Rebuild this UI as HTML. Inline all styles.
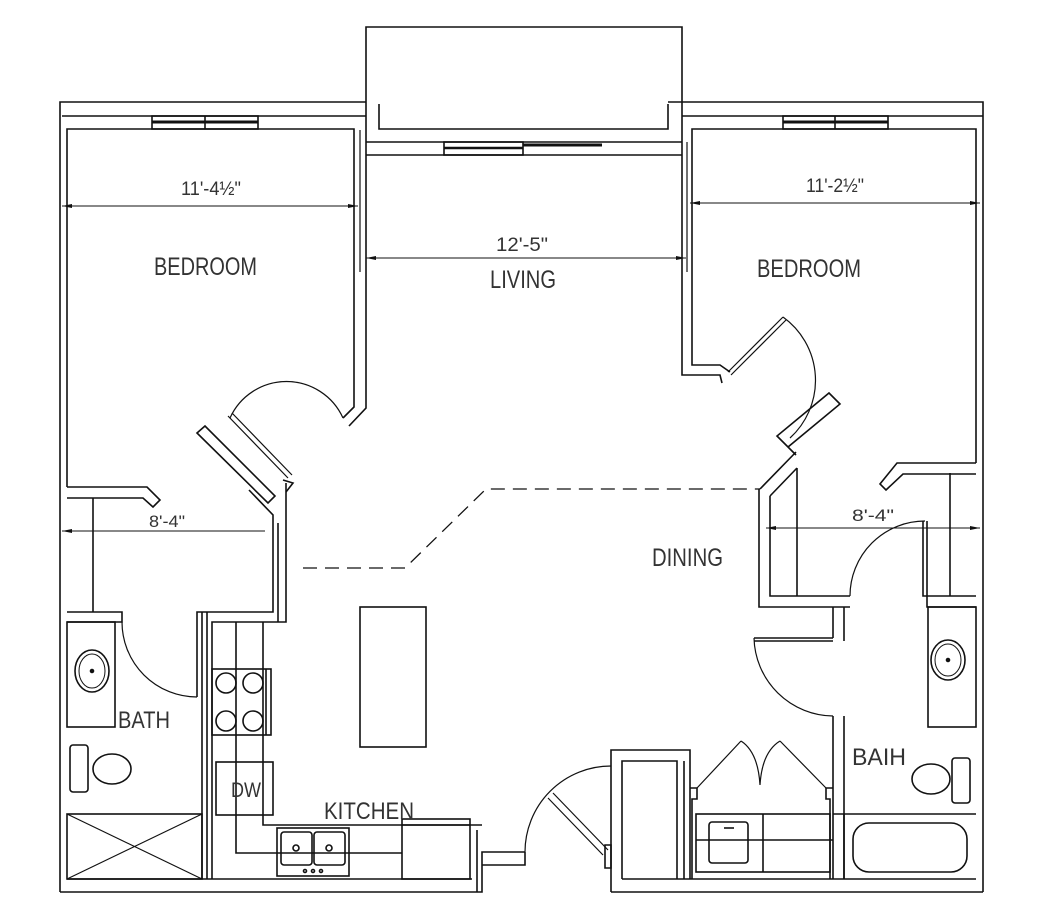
<!DOCTYPE html>
<html><head><meta charset="utf-8"><style>html,body{margin:0;padding:0;background:#fff}svg{display:block}</style></head>
<body>
<svg width="1053" height="912" viewBox="0 0 1053 912" xmlns="http://www.w3.org/2000/svg">
<g fill="none" stroke="#111" stroke-width="1.6">
<!-- balcony -->
<path d="M366 142 V27 H682 V102"/>
<path d="M379 104 V129 H668 V104"/>
<!-- top walls left -->
<path d="M60 892 V102 H366"/>
<path d="M62 116 H366"/>
<path d="M67 487 V129 H354 V407 L343 418"/>
<path d="M366 142 V408 L349 426"/>
<path d="M360 130 V272" stroke-width="1.2"/>
<rect x="152" y="116" width="106" height="13"/>
<path d="M205 116 V129"/><path d="M152 122 H258" stroke-width="3"/>
<path d="M366 142 H682 M366 155 H682"/>
<rect x="444" y="142" width="79" height="13"/>
<path d="M444 148 H523" stroke-width="2.5"/><path d="M523 145 H602" stroke-width="3"/>
<path d="M668 102 H983 V892"/>
<path d="M682 116 H983"/>
<path d="M976 463 V129 H692 V365 H720 L730 372"/>
<path d="M682 102 V375 H720 L722 383"/>
<path d="M687 142 V272" stroke-width="1.2"/>
<rect x="783" y="116" width="105" height="13"/>
<path d="M835 116 V129"/><path d="M783 122 H888" stroke-width="3"/>
<path d="M728 372 L783 317 M731 375 L786 320" stroke-width="1.2"/>
<path d="M783 317 A78 78 0 0 1 790 438" stroke-width="1.2"/>
<path d="M777 436 L788 447 L840 404 L829 393 Z M788 447 L796 455"/>
<path d="M760 489 L796 452 M770 496 L797 468"/>
<path d="M230 418 A62 62 0 0 1 343 418" stroke-width="1.2"/>
<path d="M228 416 L288 478 M232 413 L292 475" stroke-width="1.2"/>
<path d="M197 433 L205 426 L275 496 L268 503 Z"/>
<path d="M283 480 L293 483 L286 492"/>
<path d="M67 487 H147 L160 500 L153 507 L143 498 H67"/>
<path d="M93 498 V612"/>
<path d="M249 490 L273 515 V612 H197 V697"/>
<path d="M67 612 H122 V622 H67"/>
<path d="M278 523 V622 M286 483 V622 H212 V879"/>
<path d="M202 612 V879 M207 612 V879" />
<path d="M62 531 H265" stroke-width="1"/>
<path d="M122 622 A75 75 0 0 0 197 697" stroke-width="1.2"/>
<rect x="67" y="622" width="48" height="105"/>
<ellipse cx="92" cy="671" rx="17" ry="21"/><ellipse cx="92" cy="671" rx="13" ry="17" stroke-width="1"/>
<circle cx="92" cy="671" r="1.5" fill="#111"/>
<rect x="70" y="745" width="18" height="47" rx="3"/>
<ellipse cx="112" cy="769" rx="19" ry="15"/>
<rect x="67" y="814" width="135" height="65"/>
<path d="M67 814 L202 879 M202 814 L67 879" stroke-width="1.2"/>
<path d="M60 892 H482 V852 H525 M67 879 H472 M477 830 V892 M482 865 H525 V852"/>
<path d="M236 622 V853 H402 M263 622 V825 H482"/>
<rect x="212" y="669" width="59" height="66"/><path d="M266 669 V735"/>
<circle cx="226" cy="683" r="10"/><circle cx="253" cy="683" r="10"/>
<circle cx="226" cy="721" r="10"/><circle cx="253" cy="721" r="10"/>
<rect x="216" y="762" width="57" height="53"/>
<rect x="277" y="828" width="72" height="48"/>
<rect x="281" y="832" width="31" height="33" rx="3"/><rect x="314" y="832" width="31" height="33" rx="3"/>
<circle cx="296" cy="848" r="3"/><circle cx="329" cy="848" r="3"/>
<circle cx="305" cy="871" r="1.5"/><circle cx="313" cy="871" r="1.5"/><circle cx="321" cy="871" r="1.5"/>
<rect x="402" y="819" width="68" height="60"/><path d="M402 825 H470" />
<rect x="360" y="607" width="66" height="140"/>
<path d="M303 568 H405 L486 489 H760" stroke-dasharray="14 8" stroke-width="1.3"/>
<path d="M759 489 V607 H850 M770 496 V596 H850 M797 468 V596"/>
<path d="M833 607 V638 M844 607 V641 M754 638 H833 M754 641 H833"/>
<path d="M754 638 A80 80 0 0 0 833 716" stroke-width="1.2"/>
<path d="M833 716 V879 M844 716 V879"/>
<path d="M850 596 A75 75 0 0 1 925 521" stroke-width="1.2"/>
<path d="M923 521 V596 H976 M927 521 V607 H976"/>
<path d="M950 473 V596"/>
<path d="M976 474 H903 L886 490 L880 484 L897 463 H976"/>
<path d="M766 528 H980" stroke-width="1"/>
<rect x="928" y="607" width="48" height="120"/>
<ellipse cx="948" cy="660" rx="17" ry="20"/><ellipse cx="948" cy="660" rx="13" ry="16" stroke-width="1"/>
<circle cx="948" cy="660" r="1.5" fill="#111"/>
<rect x="952" y="758" width="18" height="45" rx="3"/>
<ellipse cx="931" cy="779" rx="19" ry="15"/>
<path d="M833 814 H976"/>
<rect x="853" y="823" width="114" height="49" rx="16"/>
<path d="M611 892 V750 H690 V879 M622 879 V761 H677 V879 M684 879 V761"/>
<path d="M690 788 H697 V799 H692 V879 M833 788 H826 V799 H830 V879"/>
<path d="M697 788 L741 741 M826 788 L780 741" stroke-width="1.2"/>
<path d="M741 741 Q758 752 760 785 Q762 752 780 741" stroke-width="1.2"/>
<rect x="696" y="814" width="134" height="58"/><path d="M763 814 V872 M696 840 H833"/>
<rect x="709" y="822" width="39" height="41" rx="3"/><path d="M724 828 H734"/>
<path d="M611 892 H983 M622 879 H976 M844 814 V879"/>
<path d="M525 852 A86 86 0 0 1 611 766" stroke-width="1.2"/>
<path d="M553 793 L608 850 M548 798 L603 855" stroke-width="1.2"/>
<path d="M605 845 H611 V868 H605 Z"/>
</g>
<g fill="#111">
<path d="M62 206 L72 204 L72 208 Z"/><path d="M358 206 L348 204 L348 208 Z"/>
<path d="M366 258 L376 256 L376 260 Z"/><path d="M686 258 L676 256 L676 260 Z"/>
<path d="M690 203 L700 201 L700 205 Z"/><path d="M980 203 L970 201 L970 205 Z"/>
<path d="M62 531 L72 529 L72 533 Z"/>
<path d="M766 528 L776 526 L776 530 Z"/><path d="M980 528 L970 526 L970 530 Z"/>
</g>
<path d="M62 206 H358 M366 258 H686 M690 203 H980" stroke="#111" stroke-width="1"/>
<g font-family="'Liberation Sans', sans-serif" fill="#333">
<text x="181" y="195" font-size="19" textLength="60" lengthAdjust="spacingAndGlyphs">11'-4½"</text>
<text x="806" y="192" font-size="19" textLength="58" lengthAdjust="spacingAndGlyphs">11'-2½"</text>
<text x="496" y="251" font-size="19" textLength="52" lengthAdjust="spacingAndGlyphs">12'-5"</text>
<text x="149" y="527" font-size="17" textLength="36" lengthAdjust="spacingAndGlyphs">8'-4"</text>
<text x="852" y="521" font-size="17" textLength="42" lengthAdjust="spacingAndGlyphs">8'-4"</text>
<text x="154" y="275" font-size="25" textLength="103" lengthAdjust="spacingAndGlyphs">BEDROOM</text>
<text x="757" y="277" font-size="25" textLength="104" lengthAdjust="spacingAndGlyphs">BEDROOM</text>
<text x="490" y="288" font-size="25" textLength="66" lengthAdjust="spacingAndGlyphs">LIVING</text>
<text x="652" y="566" font-size="25" textLength="71" lengthAdjust="spacingAndGlyphs">DINING</text>
<text x="118" y="728" font-size="24" textLength="52" lengthAdjust="spacingAndGlyphs">BATH</text>
<text x="852" y="765" font-size="24" textLength="54" lengthAdjust="spacingAndGlyphs">BAIH</text>
<text x="324" y="819" font-size="24" textLength="90" lengthAdjust="spacingAndGlyphs">KITCHEN</text>
<text x="231" y="797" font-size="21" textLength="30" lengthAdjust="spacingAndGlyphs">DW</text>
</g>
</svg>
</body></html>
